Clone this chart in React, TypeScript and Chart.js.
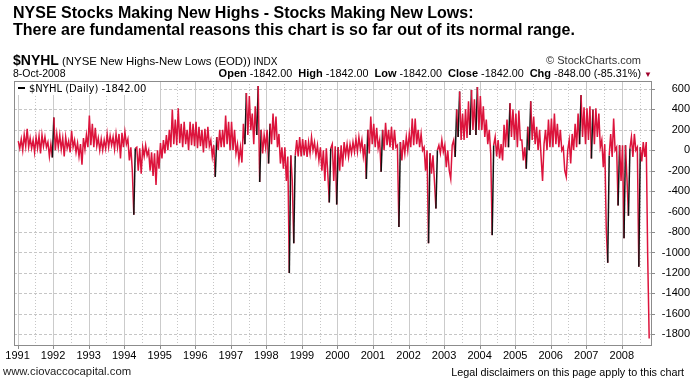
import React, { useEffect, useRef } from 'react';
import { Chart, registerables } from 'chart.js';
Chart.register(...registerables);

// Two chronological readings per month (first half, second half)
const y1991 = [[90, 20], [110, 0], [150, 40], [210, 30], [120, 20], [100, -20], [130, 20], [140, -30], [150, 40], [130, 30], [80, -60], [60, -70]];
const y1992 = [[320, 0], [160, 30], [150, 10], [120, -60], [130, 20], [90, -20], [190, 30], [100, -20], [70, -60], [60, -140], [120, 10], [150, 30]];
const y1993 = [[340, 50], [260, 30], [220, 40], [120, 0], [110, 0], [100, 15], [160, 30], [140, 50], [130, 10], [160, 30], [160, -80], [170, 30]];
const y1994 = [[180, 60], [110, -100], [30, -200], [-630, 20], [30, -200], [20, -230], [30, -60], [50, -50], [0, -200], [-20, -250], [-30, -340], [0, -180]];
const y1995 = [[70, -80], [100, -30], [150, 0], [200, 30], [400, 60], [300, 50], [410, 70], [260, 30], [280, 60], [200, 0], [280, 50], [260, 40]];
const y1996 = [[280, 20], [230, 40], [200, -20], [210, 20], [230, 40], [100, -60], [50, -260], [130, 0], [200, 30], [200, 30], [340, 60], [280, 0]];
const y1997 = [[280, 0], [200, -30], [60, -100], [30, -120], [260, 60], [560, 150], [530, 200], [360, 60], [430, 150], [630, -310], [200, -30], [150, 30]];
const y1998 = [[200, -130], [260, 60], [360, 100], [330, 30], [160, -130], [30, -180], [30, -300], [-60, -1200], [-50, -300], [-910, -50], [100, -60], [130, -60]];
const y1999 = [[110, -50], [100, -65], [80, -30], [130, 0], [80, -50], [50, -100], [30, -200], [0, -300], [20, -230], [-510, 20], [60, -300], [40, -530]];
const y2000 = [[30, -200], [50, -160], [80, -50], [60, -65], [60, -30], [80, -15], [110, -15], [130, 10], [100, -60], [60, -280], [200, -30], [330, 60]];
const y2001 = [[260, 30], [220, 20], [100, -210], [200, 0], [270, 50], [200, 30], [230, 0], [200, 30], [50, -750], [80, -100], [100, -30], [130, 0]];
const y2002 = [[160, 30], [310, 50], [310, 60], [200, 30], [160, 0], [30, -200], [0, -910], [-30, -230], [-50, -300], [-570, 0], [50, -30], [100, -15]];
const y2003 = [[50, -165], [0, -200], [-280, 50], [100, -65], [400, 130], [575, 100], [360, 100], [400, 120], [480, 150], [590, 200], [500, 150], [620, 200]];
const y2004 = [[530, 200], [430, 130], [300, 60], [200, -30], [-830, 50], [130, -60], [100, -80], [60, -100], [250, 30], [300, 30], [460, 130], [400, 100]];
const y2005 = [[360, 30], [390, 100], [100, -100], [30, -180], [230, 0], [480, 100], [330, 60], [230, 0], [200, -60], [-300, 60], [200, 0], [300, 30]];
const y2006 = [[310, 30], [360, 60], [260, 30], [200, 0], [30, -200], [-260, 0], [100, -130], [160, 0], [260, 30], [360, 60], [540, 130], [420, 60]];
const y2007 = [[410, 100], [430, -80], [400, 60], [410, 130], [360, 30], [100, -165], [60, -760], [-1100, -50], [160, -65], [310, 0], [30, -540], [50, -300]];
const y2008 = [[50, -860], [50, -280], [-640, 20], [130, -65], [160, 0], [30, -1140], [30, -110], [80, -65], [80, -1040], [-1842]];

const years = [1991, 1992, 1993, 1994, 1995, 1996, 1997, 1998, 1999, 2000, 2001, 2002, 2003, 2004, 2005, 2006, 2007, 2008];
const yearlyData = [y1991, y1992, y1993, y1994, y1995, y1996, y1997, y1998, y1999, y2000, y2001, y2002, y2003, y2004, y2005, y2006, y2007, y2008];
const yTicks = [600, 400, 200, 0, -200, -400, -600, -800, -1000, -1200, -1400, -1600, -1800];
const xMin = 1990.9;
const xMax = 2008.85;
const yMin = -1915;
const yMax = 678;

const RED = '#dc143c';

function buildPoints() {
  const pts: { x: number; y: number }[] = [];
  yearlyData.forEach((arr, yi) => {
    arr.forEach((pair, m) => {
      pair.forEach((v, k) => {
        pts.push({ x: years[yi] + (m + 0.25 + 0.5 * k) / 12, y: v });
      });
    });
  });
  return pts;
}

const gridPlugin = {
  id: 'customGrid',
  beforeDatasetsDraw(chart: any) {
    const { ctx, chartArea: a, scales } = chart;
    const x = scales.x, y = scales.y;
    ctx.save();
    ctx.lineWidth = 1;
    ctx.strokeStyle = '#c6c6c6';
    ctx.setLineDash([3, 2]);
    yTicks.forEach((v) => {
      const py = Math.round(y.getPixelForValue(v)) + 0.5;
      ctx.beginPath(); ctx.moveTo(a.left, py); ctx.lineTo(a.right, py); ctx.stroke();
    });
    ctx.setLineDash([1, 2]);
    years.forEach((yr) => {
      const px = Math.round(x.getPixelForValue(yr + 0.5)) + 0.5;
      if (px > a.left && px < a.right) { ctx.beginPath(); ctx.moveTo(px, a.top); ctx.lineTo(px, a.bottom); ctx.stroke(); }
    });
    ctx.setLineDash([]);
    ctx.strokeStyle = '#cbcbcb';
    years.forEach((yr) => {
      const px = Math.round(x.getPixelForValue(yr)) + 0.5;
      if (px > a.left && px < a.right) { ctx.beginPath(); ctx.moveTo(px, a.top); ctx.lineTo(px, a.bottom); ctx.stroke(); }
    });
    ctx.restore();
  },
  afterDatasetsDraw(chart: any) {
    const { ctx, chartArea: a, scales } = chart;
    const y = scales.y, x = scales.x;
    ctx.save();
    ctx.strokeStyle = '#8c8c8c';
    ctx.lineWidth = 1;
    ctx.strokeRect(Math.round(a.left) + 0.5, Math.round(a.top) + 0.5, Math.round(a.right - a.left) - 1, Math.round(a.bottom - a.top) - 1);
    ctx.beginPath();
    yTicks.forEach((v) => {
      const py = Math.round(y.getPixelForValue(v)) + 0.5;
      ctx.moveTo(a.right, py); ctx.lineTo(a.right + 3, py);
    });
    years.forEach((yr) => {
      const px = Math.round(x.getPixelForValue(yr)) + 0.5;
      ctx.moveTo(px, a.bottom); ctx.lineTo(px, a.bottom + 3);
    });
    ctx.stroke();
    ctx.restore();
  },
};

const tickFont = { family: '"Liberation Sans", Arial, sans-serif', size: 11 };

export default function App() {
  const ref = useRef<HTMLCanvasElement>(null);
  useEffect(() => {
    const chart = new Chart(ref.current as HTMLCanvasElement, {
      type: 'line',
      data: {
        datasets: [
          {
            data: buildPoints(),
            borderColor: RED,
            borderWidth: 1.5,
            pointRadius: 0,
            tension: 0,
            segment: {
              borderColor: (c: any) => (c.p1.parsed.y - c.p0.parsed.y > 380 ? '#111' : undefined),
            },
          } as any,
        ],
      },
      options: {
        animation: false,
        responsive: false,
        events: [],
        layout: { padding: { left: 14, top: 81, right: 0, bottom: 0 } },
        plugins: { legend: { display: false }, tooltip: { enabled: false } },
        scales: {
          x: {
            type: 'linear',
            min: xMin,
            max: xMax,
            grid: { display: false, drawTicks: false },
            border: { display: false },
            afterBuildTicks: (s: any) => { s.ticks = years.map((v) => ({ value: v })); },
            afterFit: (s: any) => { s.height = 37; },
            ticks: { font: tickFont, color: '#000', maxRotation: 0, autoSkip: false, padding: 3, callback: (v: any) => String(v) },
          },
          y: {
            position: 'right',
            min: yMin,
            max: yMax,
            grid: { display: false, drawTicks: false },
            border: { display: false },
            afterBuildTicks: (s: any) => { s.ticks = yTicks.map((v) => ({ value: v })); },
            afterFit: (s: any) => { s.width = 38; },
            ticks: { font: tickFont, color: '#000', crossAlign: 'far', padding: -4, callback: (v: any) => String(v) },
          },
        },
      } as any,
      plugins: [gridPlugin],
    });
    return () => chart.destroy();
  }, []);

  const sans = '"Liberation Sans", Arial, sans-serif';
  return (
    <div style={{ position: 'fixed', left: 0, top: 0, width: 690, height: 383, background: '#fff', overflow: 'hidden', fontFamily: sans, color: '#000' }}>
      <canvas ref={ref} width={690} height={383} style={{ position: 'absolute', left: 0, top: 0 }} />
      <div style={{ position: 'absolute', left: 13, top: 4, fontSize: 16, fontWeight: 'bold', lineHeight: '17px', whiteSpace: 'nowrap' }}>
        <div>NYSE Stocks Making New Highs - Stocks Making New Lows:</div>
        <div>There are fundamental reasons this chart is so far out of its normal range.</div>
      </div>
      <div style={{ position: 'absolute', left: 13, top: 52, lineHeight: '15px', whiteSpace: 'nowrap' }}>
        <span style={{ fontSize: 14, fontWeight: 'bold' }}>$NYHL</span>
        <span style={{ fontSize: 11.4 }}> (NYSE New Highs-New Lows (EOD))</span>
        <span style={{ fontSize: 10 }}> INDX</span>
      </div>
      <div style={{ position: 'absolute', right: 49, top: 54, fontSize: 11, lineHeight: '13px', color: '#333', whiteSpace: 'nowrap' }}>© StockCharts.com</div>
      <div style={{ position: 'absolute', left: 13, top: 67, fontSize: 10.5, lineHeight: '12px', whiteSpace: 'nowrap' }}>8-Oct-2008</div>
      <div style={{ position: 'absolute', right: 38, top: 67, fontSize: 10.8, lineHeight: '12px', whiteSpace: 'nowrap' }}>
        <b style={{ fontSize: 11 }}>Open</b> -1842.00&nbsp; <b style={{ fontSize: 11 }}>High</b> -1842.00&nbsp; <b style={{ fontSize: 11 }}>Low</b> -1842.00&nbsp; <b style={{ fontSize: 11 }}>Close</b> -1842.00&nbsp; <b style={{ fontSize: 11 }}>Chg</b> -848.00 (-85.31%) <span style={{ color: '#a0002a', fontSize: 8 }}>▼</span>
      </div>
      <div style={{ position: 'absolute', left: 15, top: 82, width: 145, height: 13, background: '#fff' }}>
        <div style={{ position: 'absolute', left: 3, top: 5, width: 7, height: 2, background: '#000' }} />
        <div style={{ position: 'absolute', left: 14, top: 0, fontFamily: '"DejaVu Sans", Verdana, sans-serif', fontSize: 10, lineHeight: '13px', whiteSpace: 'nowrap' }}>$NYHL (Daily) -1842.00</div>
      </div>
      <div style={{ position: 'absolute', left: 3, top: 365, fontSize: 11.3, lineHeight: '13px', color: '#222', whiteSpace: 'nowrap' }}>www.ciovaccocapital.com</div>
      <div style={{ position: 'absolute', right: 6, top: 366, fontSize: 10.8, lineHeight: '13px', color: '#000', whiteSpace: 'nowrap' }}>Legal disclaimers on this page apply to this chart</div>
    </div>
  );
}
